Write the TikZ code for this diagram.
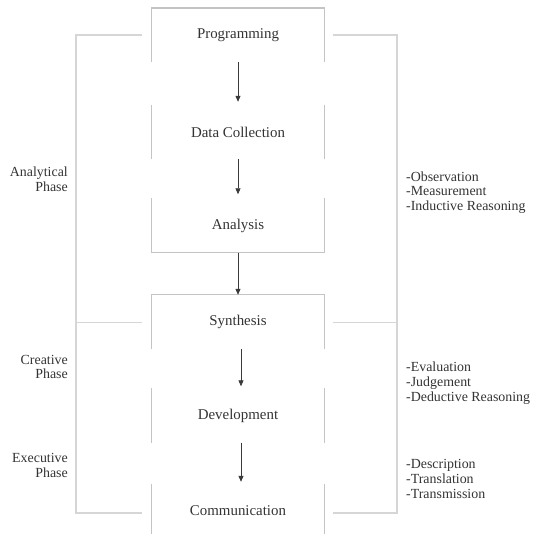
\documentclass[tikz,border=0pt]{standalone}
\usepackage{fontspec}
\setmainfont{Liberation Serif}
\usetikzlibrary{arrows.meta}
\definecolor{txt}{HTML}{333333}
\definecolor{boxline}{HTML}{C4C4C4}
\definecolor{brline}{HTML}{D6D6D6}
\definecolor{arr}{HTML}{3A3A3A}
\tikzset{
  stage/.style={minimum width=172pt, minimum height=54pt, inner sep=0pt, text=txt,
    font=\fontsize{14.9}{16}\selectfont},
  side/.style={draw=boxline, line width=1.3pt},
  bracket/.style={draw=brline, line width=1.3pt},
  flow/.style={draw=arr, line width=0.8pt, -{Triangle[length=6pt,width=5pt]}},
  lbl/.style={text=txt, inner sep=0pt, font=\fontsize{13.9}{14.8}\selectfont},
}
\begin{document}
\begin{tikzpicture}[x=1pt,y=-1pt]
\useasboundingbox (0,0) rectangle (532,534);
\clip (0,0) rectangle (532,534);
% stages
\node[stage] (prog) at (238,35.25) {Programming};
\node[stage] (data) at (238,132) {Data Collection};
\node[stage] (ana)  at (238,225.5) {Analysis};
\node[stage] (syn)  at (238,322) {Synthesis};
\node[stage] (dev)  at (238,415.5) {Development};
\node[stage] (com)  at (238,511) {Communication};
% box sides
\draw[side] (prog.south west) -- (prog.north west) -- (prog.north east) -- (prog.south east);
\draw[side] (data.north west) -- (data.south west);
\draw[side] (data.north east) -- (data.south east);
\draw[side] (ana.north west) -- (ana.south west) -- (ana.south east) -- (ana.north east);
\draw[side] (syn.south west) -- (syn.north west) -- (syn.north east) -- (syn.south east);
\draw[side] (dev.north west) -- (dev.south west);
\draw[side] (dev.north east) -- (dev.south east);
\draw[side] (com.north west) -- (com.south west);
\draw[side] (com.north east) -- (com.south east);
% arrows
\draw[flow] (prog.south) -- ([yshift=3pt]data.north);
\draw[flow] (data.south) -- ([yshift=4pt]ana.north);
\draw[flow] (ana.south) -- (syn.north);
\draw[flow] ([xshift=3pt]syn.south) -- ([xshift=3pt,yshift=2pt]dev.north);
\draw[flow] ([xshift=3pt]dev.south) -- ([xshift=3pt,yshift=2pt]com.north);
% brackets
\coordinate (lt) at (141.5,35);
\coordinate (lm) at (141.5,322.5);
\coordinate (lb) at (141.5,513);
\coordinate (rt) at (332.5,35);
\coordinate (rm) at (332.5,322.5);
\coordinate (rb) at (332.5,513);
\draw[bracket] (lt) -- (76,35) -- (76,513) -- (lb);
\draw[bracket] (lm) -- (76,322.5);
\draw[bracket] (rt) -- (397,35) -- (397,513) -- (rb);
\draw[bracket] (rm) -- (397,322.5);
% left labels
\node[lbl, align=right, anchor=east] (ph1) at (68,179.5) {Analytical\\Phase};
\node[lbl, align=right, anchor=east] (ph2) at (68,367) {Creative\\Phase};
\node[lbl, align=right, anchor=east] (ph3) at (68,465.5) {Executive\\Phase};
% right labels
\node[lbl, align=left, anchor=west] (ds1) at (406,192.5) {-Observation\\-Measurement\\-Inductive Reasoning};
\node[lbl, align=left, anchor=west] (ds2) at (406,383) {-Evaluation\\-Judgement\\-Deductive Reasoning};
\node[lbl, align=left, anchor=west] (ds3) at (406,479) {-Description\\-Translation\\-Transmission};
\end{tikzpicture}
\end{document}
